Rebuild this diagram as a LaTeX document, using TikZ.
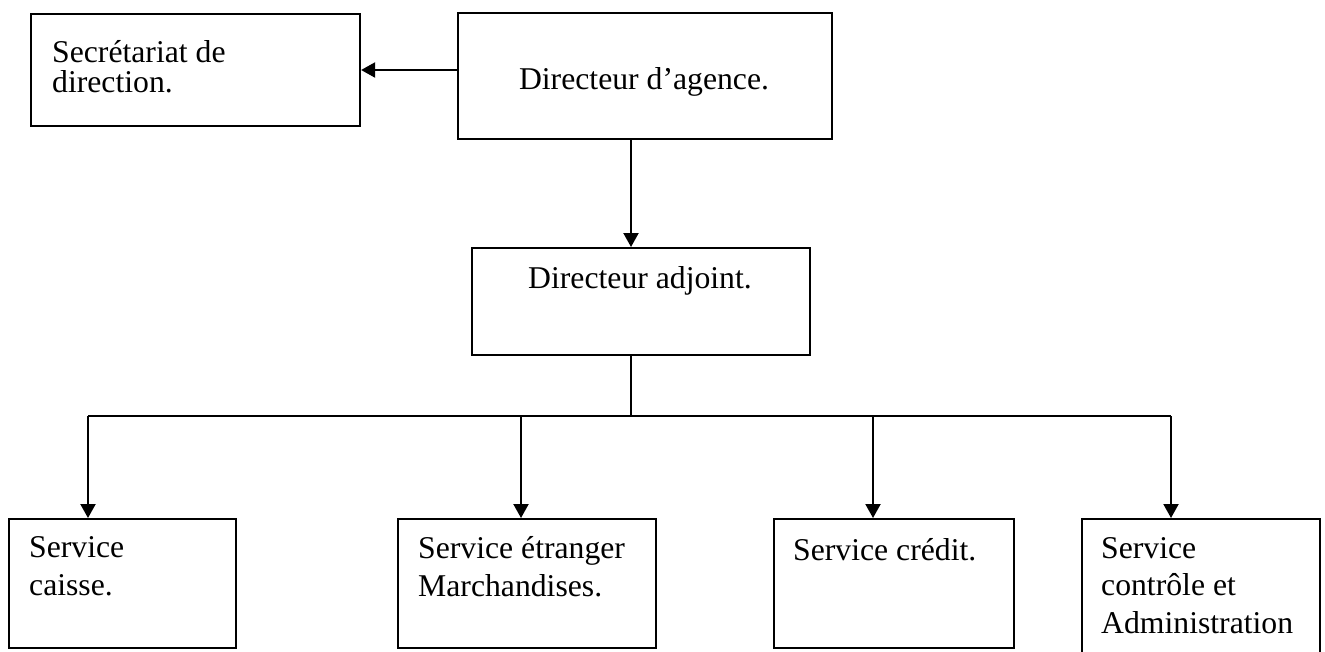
\documentclass[tikz,border=0pt]{standalone}
\usepackage{fontspec}
\setmainfont{Liberation Serif}
\usetikzlibrary{arrows.meta}
\begin{document}
\begin{tikzpicture}[x=1pt,y=-1pt,
  box/.style={draw=black, line width=2.1pt, rectangle, inner sep=0pt, anchor=north west},
  % multi-line texts are placed by the baseline of their last line
  txt/.style={inner sep=0pt, align=left, anchor=base west, font=\fontsize{31.7}{37.5}\selectfont},
  ctxt/.style={inner sep=0pt, anchor=base, font=\fontsize{31.7}{37.5}\selectfont},
  link/.style={line width=2.1pt},
  arr/.style={line width=2.1pt, -{Triangle[width=15pt,length=14pt]}}]
  \clip (0,0) rectangle (1325,651);
  \useasboundingbox (0,0) rectangle (1325,651);

  % top level
  \node[box, minimum width=374, minimum height=126] (dag) at (457,12) {};
  \node[ctxt] (dagT) at (644,89) {Directeur d’agence.};
  \node[box, minimum width=329, minimum height=112] (sec) at (30,13) {};
  \node[txt, font=\fontsize{31.7}{30}\selectfont] (secT) at (52,92) {Secrétariat de\\direction.};

  % deputy
  \node[box, minimum width=338, minimum height=107] (adj) at (471,247) {};
  \node[ctxt] (adjT) at (640,288) {Directeur adjoint.};

  % services
  \node[box, minimum width=227, minimum height=129] (cai) at (8,518) {};
  \node[txt] (caiT) at (29,595) {Service\\caisse.};
  \node[box, minimum width=258, minimum height=129] (etr) at (397,518) {};
  \node[txt] (etrT) at (418,596) {Service étranger\\Marchandises.};
  \node[box, minimum width=240, minimum height=129] (cre) at (773,518) {};
  \node[txt] (creT) at (793,560) {Service crédit.};
  \node[box, minimum width=238, minimum height=150] (ctl) at (1081,518) {};
  \node[txt] (ctlT) at (1101,633) {Service\\contrôle et\\Administration};

  % connectors
  \coordinate (lvl) at (0,70);
  \coordinate (trunk) at (631,0);
  \coordinate (bus) at (0,416);
  \draw[arr] (dag.west |- lvl) -- (sec.east |- lvl);
  \draw[arr] (dag.south -| trunk) -- (adj.north -| trunk);
  \draw[link] (adj.south -| trunk) -- (trunk |- bus);

  \coordinate (d1) at (88,416);
  \coordinate (d2) at (521,416);
  \coordinate (d3) at (873,416);
  \coordinate (d4) at (1171,416);
  \draw[link] (d1) -- (d4);
  \draw[arr] (d1) -- (d1 |- cai.north);
  \draw[arr] (d2) -- (d2 |- etr.north);
  \draw[arr] (d3) -- (d3 |- cre.north);
  \draw[arr] (d4) -- (d4 |- ctl.north);
\end{tikzpicture}
\end{document}
